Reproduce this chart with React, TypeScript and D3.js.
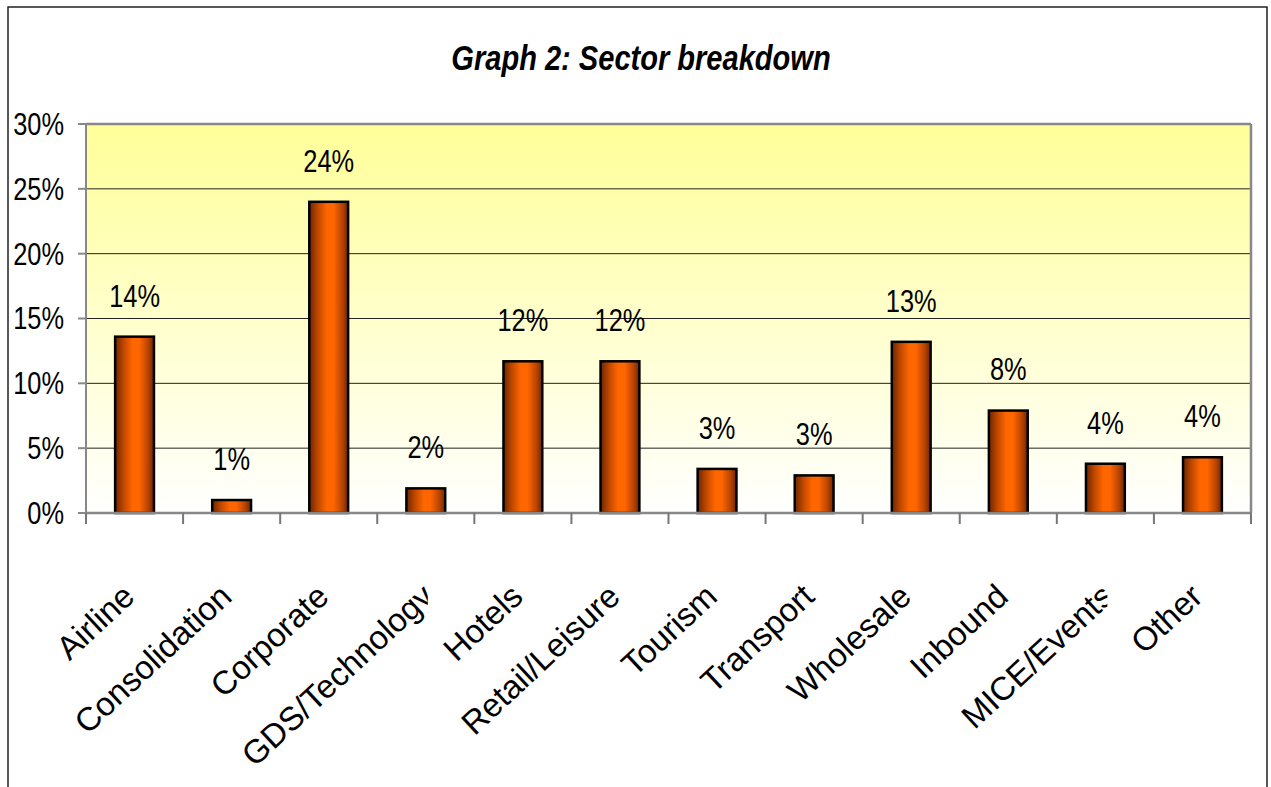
import React from "react";
import * as d3 from "d3";

const categories = [
  "Airline", "Consolidation", "Corporate", "GDS/Technology", "Hotels", "Retail/Leisure",
  "Tourism", "Transport", "Wholesale", "Inbound", "MICE/Events", "Other",
];
const values = [13.6, 1.0, 24.0, 1.9, 11.7, 11.7, 3.4, 2.9, 13.2, 7.9, 3.8, 4.3];
const yTicks = [0, 5, 10, 15, 20, 25, 30];
const clippedLabels = ["GDS/Technology", "MICE/Events"];
const title = "Graph 2: Sector breakdown";

const W = 1271, H = 787;
const plot = { left: 86, right: 1251, top: 124, bottom: 513 };
const FONT = "'Liberation Sans', Arial, Helvetica, sans-serif";

export default function App() {
  const x = d3.scaleBand<string>().domain(categories).range([plot.left, plot.right]).padding(0);
  const y = d3.scaleLinear().domain([0, 30]).range([plot.bottom, plot.top]);
  const step = x.step();
  const barW = step * 0.4;

  return (
    <svg width={W} height={H} style={{ position: "absolute", left: 0, top: 0, background: "#fff" }}
      fontFamily={FONT}>
      <defs>
        <linearGradient id="bg" x1="0" y1="0" x2="0" y2="1">
          <stop offset="0%" stopColor="#ffff99" />
          <stop offset="100%" stopColor="#ffffff" />
        </linearGradient>
        <linearGradient id="bar" x1="0" y1="0" x2="1" y2="0">
          <stop offset="0%" stopColor="#6b2600" />
          <stop offset="22%" stopColor="#c04800" />
          <stop offset="45%" stopColor="#ff6600" />
          <stop offset="62%" stopColor="#ff6600" />
          <stop offset="85%" stopColor="#b84400" />
          <stop offset="100%" stopColor="#6b2600" />
        </linearGradient>
        {categories.map((c, i) => (
          <clipPath id={`clip${i}`} key={c}>
            <rect x={0} y={0} width={(x(c) as number) + step / 2 + 2} height={H} />
          </clipPath>
        ))}
      </defs>

      {/* outer frame */}
      <rect x={8} y={7} width={1259} height={820} fill="none" stroke="#222" strokeWidth={1.5} />

      {/* title */}
      <text transform={`translate(641,70) scale(0.83,1)`} textAnchor="middle" fontSize={35}
        fontWeight="bold" fontStyle="italic" fill="#000">{title}</text>

      {/* plot background */}
      <rect x={plot.left} y={plot.top} width={plot.right - plot.left} height={plot.bottom - plot.top}
        fill="url(#bg)" />

      {/* gridlines */}
      {yTicks.filter((t) => t > 0 && t < 30).map((t) => (
        <line key={t} x1={plot.left} x2={plot.right} y1={y(t)} y2={y(t)} stroke="#222" strokeWidth={1} />
      ))}

      {/* plot border top/right */}
      <line x1={plot.left} x2={plot.right} y1={plot.top} y2={plot.top} stroke="#888" strokeWidth={2.5} />
      <line x1={plot.right} x2={plot.right} y1={plot.top} y2={plot.bottom} stroke="#888" strokeWidth={2.5} />

      {/* y axis */}
      <line x1={plot.left} x2={plot.left} y1={plot.top} y2={plot.bottom} stroke="#888" strokeWidth={2} />
      {yTicks.map((t) => (
        <g key={t}>
          <line x1={plot.left - 8} x2={plot.left} y1={y(t)} y2={y(t)} stroke="#888" strokeWidth={2} />
          <text transform={`translate(64,${y(t)}) scale(0.82,1)`} textAnchor="end" dy="0.35em"
            fontSize={31} fill="#000">{`${t}%`}</text>
        </g>
      ))}

      {/* bars */}
      {categories.map((c, i) => {
        const x0 = (x(c) as number) + (step - barW) / 2;
        return (
          <rect key={c} x={x0} y={y(values[i])} width={barW} height={y(0) - y(values[i])}
            fill="url(#bar)" stroke="#000" strokeWidth={2.5} />
        );
      })}

      {/* x axis */}
      <line x1={plot.left} x2={plot.right} y1={plot.bottom} y2={plot.bottom} stroke="#888" strokeWidth={2.5} />
      {[...categories.map((c) => x(c) as number), plot.right].map((xx, i) => (
        <line key={i} x1={xx} x2={xx} y1={plot.bottom} y2={plot.bottom + 11} stroke="#777" strokeWidth={2} />
      ))}

      {/* data labels */}
      {categories.map((c, i) => {
        const cx = (x(c) as number) + step / 2;
        return (
          <text key={c} transform={`translate(${cx},${y(values[i]) - 41}) scale(0.82,1)`}
            textAnchor="middle" dy="0.35em" fontSize={31} fill="#000">
            {`${Math.round(values[i])}%`}
          </text>
        );
      })}

      {/* category labels */}
      {categories.map((c, i) => {
        const cx = (x(c) as number) + step / 2;
        const clipped = clippedLabels.includes(c);
        const ax = cx + 2 + (clipped ? 8 : 0);
        return (
          <g key={c} clipPath={clipped ? `url(#clip${i})` : undefined}>
            <text transform={`translate(${ax},599) rotate(-43)`} textAnchor="end"
              fontSize={33} fill="#000">{c}</text>
          </g>
        );
      })}
    </svg>
  );
}
